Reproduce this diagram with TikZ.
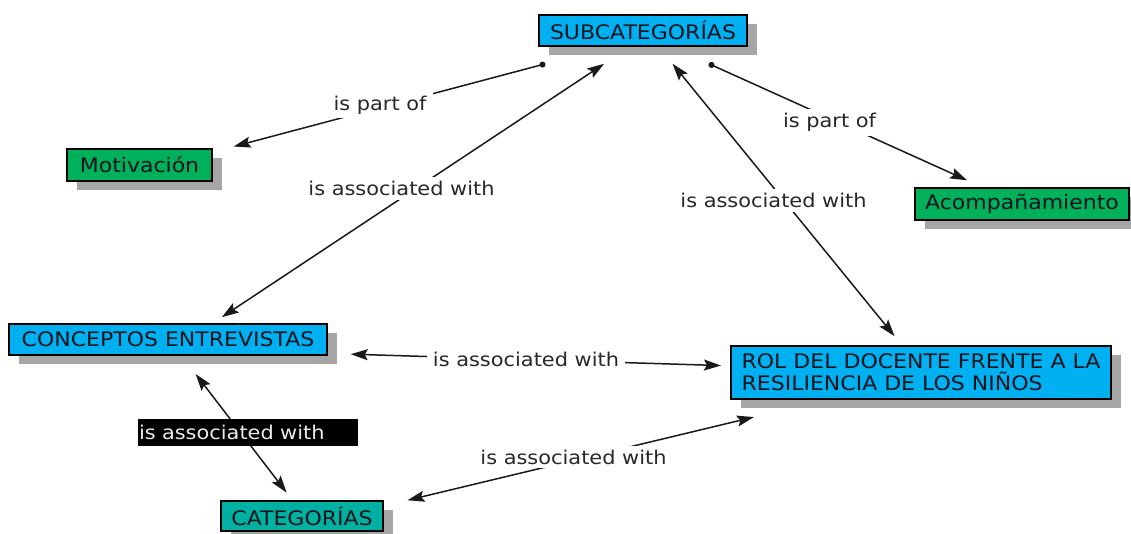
\documentclass[tikz,border=0pt]{standalone}
\usepackage{fontspec}
\usetikzlibrary{arrows.meta,shadows}
\newfontfamily\cmapfont[FakeStretch=1.1]{DejaVu Sans}
\definecolor{cblue}{RGB}{0,176,240}
\definecolor{cgreen}{RGB}{0,176,90}
\definecolor{cteal}{RGB}{0,176,160}
\definecolor{cshadow}{RGB}{166,166,166}
\definecolor{ctext}{RGB}{15,20,30}
\definecolor{lline}{RGB}{25,25,25}
\definecolor{ltext}{RGB}{40,40,40}
\begin{document}
\begin{tikzpicture}[x=1pt,y=-1pt,
  >={Stealth[length=17pt,width=11pt,inset=3pt]},
  concept/.style={draw=black, line width=1.5pt, text=ctext,
    font=\cmapfont\fontsize{20}{22}\selectfont, inner sep=0pt,
    drop shadow={shadow xshift=10pt,shadow yshift=-9pt,fill=cshadow,opacity=1}},
  linklabel/.style={fill=white, text=ltext, font=\cmapfont\fontsize{19}{22}\selectfont,
    inner xsep=6pt, inner ysep=4pt},
  darklabel/.style={fill=black, text=white!92!black, font=\cmapfont\fontsize{19}{22}\selectfont,
    text width=218pt, align=left, inner xsep=1pt, inner ysep=0pt, minimum height=27pt},
  conn/.style={draw=lline, line width=1.5pt}]
\useasboundingbox (0,0) rectangle (1131,534);

% concepts
\node[concept, fill=cblue, minimum width=208pt, minimum height=31pt] (sub) at (643,30.5) {SUBCATEGORÍAS};
\node[concept, fill=cgreen, minimum width=145pt, minimum height=32pt] (mot) at (139.5,165) {Motivación};
\node[concept, fill=cgreen, minimum width=214pt, minimum height=32pt] (aco) at (1022,204) {Acompañamiento};
\node[concept, fill=cblue, minimum width=318pt, minimum height=31pt] (con) at (168,339.5) {CONCEPTOS ENTREVISTAS};
\node[concept, fill=cblue, align=left, minimum width=380pt, minimum height=53pt] (rol) at (921,372.5) {ROL DEL DOCENTE FRENTE A LA\\RESILIENCIA DE LOS NIÑOS};
\node[concept, fill=cteal, minimum width=162pt, minimum height=30pt] (cat) at (302,516) {CATEGORÍAS};

% connectors
\draw[conn, {Circle[length=6pt]}->, shorten <=66.5pt, shorten >=21.7pt] (sub.206.1) -- (mot.10.5);
\draw[conn, <->, shorten <=30.9pt, shorten >=10.9pt] (sub.231.8) -- (con.20.8);
\draw[conn, <->, shorten <=21.9pt, shorten >=11.6pt] (sub.314.4) -- (rol.125.2);
\draw[conn, {Circle[length=6pt]}->, shorten <=41.2pt, shorten >=16.9pt] (sub.330.6) -- (aco.157.5);
\draw[conn, <->, shorten <=23pt, shorten >=9.3pt] (con.355.6) -- (rol.178.55);
\draw[conn, <->, shorten <=23pt, shorten >=9.7pt] (con.310) -- (cat.121.2);
\draw[conn, <->, shorten <=24.4pt, shorten >=74.1pt] (cat.7.8) -- (rol.196.6);

% link labels
\node[linklabel] (l1) at (380,105) {is part of};
\node[linklabel] (l2) at (401.5,188.5) {is associated with};
\node[linklabel] (l3) at (773.5,200.5) {is associated with};
\node[linklabel] (l4) at (829.5,122.5) {is part of};
\node[linklabel] (l5) at (526,359) {is associated with};
\node[darklabel] (l6) at (248,432.5) {is associated with};
\node[linklabel] (l7) at (573.5,457) {is associated with};
\end{tikzpicture}
\end{document}
